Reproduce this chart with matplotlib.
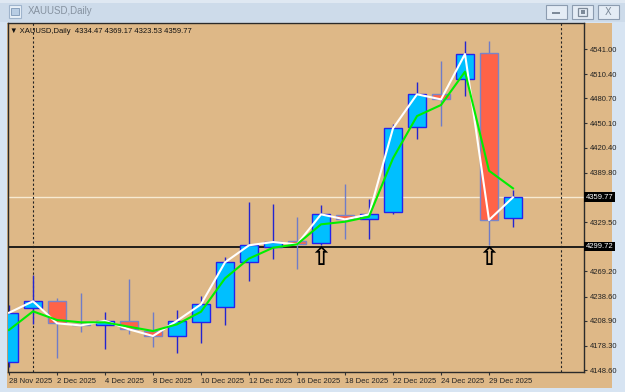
import numpy as np
import matplotlib.pyplot as plt
from matplotlib.patches import Rectangle
from matplotlib.transforms import blended_transform_factory

plt.rcParams['font.family'] = ['Liberation Sans', 'DejaVu Sans']

# daily XAUUSD candles
dates = ['28 Nov 2025', '1 Dec 2025', '2 Dec 2025', '3 Dec 2025', '4 Dec 2025',
         '5 Dec 2025', '8 Dec 2025', '9 Dec 2025', '10 Dec 2025', '11 Dec 2025',
         '12 Dec 2025', '15 Dec 2025', '16 Dec 2025', '17 Dec 2025', '18 Dec 2025',
         '19 Dec 2025', '22 Dec 2025', '23 Dec 2025', '24 Dec 2025', '26 Dec 2025',
         '29 Dec 2025', '30 Dec 2025']
opens = [4158.2, 4224.2, 4232.8, 4205.5, 4203.8, 4209.0, 4197.1, 4190.4, 4207.1, 4225.8,
         4280.8, 4299.1, 4306.8, 4304.0, 4338.2, 4332.9, 4341.5, 4445.7, 4485.7, 4504.7,
         4536.5, 4334.47]
highs = [4228.2, 4264.9, 4236.8, 4242.5, 4220.0, 4259.6, 4219.7, 4222.1, 4239.2, 4287.2,
         4353.7, 4351.3, 4335.4, 4350.4, 4375.7, 4357.4, 4449.0, 4500.3, 4526.7, 4550.8,
         4550.8, 4369.17]
lows = [4152.5, 4205.0, 4163.1, 4195.6, 4174.1, 4192.4, 4176.5, 4169.9, 4182.2, 4204.2,
        4257.9, 4284.8, 4271.8, 4301.9, 4308.9, 4308.9, 4339.0, 4431.0, 4447.3, 4484.0,
        4301.5, 4323.53]
closes = [4218.8, 4232.8, 4205.9, 4203.3, 4209.0, 4198.5, 4190.4, 4209.0, 4229.1, 4280.4,
          4301.2, 4305.2, 4302.4, 4339.0, 4332.9, 4339.0, 4444.1, 4485.7, 4479.5, 4534.9,
          4332.1, 4359.77]
# green moving average line
ma_vals = [4197.7, 4220.5, 4209.9, 4207.1, 4207.1, 4201.7, 4196.5, 4204.6, 4220.0, 4260.8,
           4285.0, 4298.2, 4302.4, 4326.8, 4330.0, 4336.1, 4407.5, 4459.1, 4472.6, 4513.3,
           4392.3, 4370.8]

bid = 4359.77
hline = 4299.72
arrow_idx = [13, 20]
arrow_price = 4286.0
sep_idx = [1, 23]
ytick_vals = [4541.00, 4510.40, 4480.70, 4450.10, 4420.40, 4389.80, 4329.50,
              4269.20, 4238.60, 4208.90, 4178.30, 4148.60]

W, H = 625, 392
fig = plt.figure(figsize=(W / 100, H / 100), dpi=100)
fig.patch.set_facecolor('#d7e4f2')


def rect(x0, y0, x1, y1, **kw):
    r = Rectangle((x0 / W, 1 - y1 / H), (x1 - x0) / W, (y1 - y0) / H,
                  transform=fig.transFigure, zorder=-1, **kw)
    fig.add_artist(r)
    return r


# window chrome
rect(0, 0, W, 22, facecolor='#cddbea', edgecolor='none')
rect(0, 0, W, 3, facecolor='#dfe8f2', edgecolor='none')
rect(7, 23, 612, 388, facecolor='#deb887', edgecolor='none')
rect(9, 5, 21, 18, facecolor='#e8f0f8', edgecolor='#9fb4cc', lw=0.8)
rect(11, 8, 19, 15, facecolor='#b8cde4', edgecolor='#7d97b5', lw=0.6)
fig.text(28 / W, 1 - 11.5 / H, 'XAUUSD,Daily', color='#8692a0', fontsize=7, va='center')
for bx in (546, 572, 598):
    rect(bx, 5, bx + 21, 19, facecolor='#e4ecf5', edgecolor='#8c9cb0', lw=0.8)
rect(552, 12, 560, 14, facecolor='#7d8a99', edgecolor='none')
rect(578, 8, 587, 16, facecolor='none', edgecolor='#7d8a99', lw=0.9)
rect(580.5, 10.5, 584.5, 13.5, facecolor='#7d8a99', edgecolor='none')
fig.text(608.5 / W, 1 - 12 / H, 'X', color='#7d8a99', fontsize=7, ha='center', va='center',
         family='DejaVu Sans')

ax = fig.add_axes([8 / W, 1 - 372 / H, 576 / W, 349 / H])
ax.set_facecolor('#deb887')

x = np.arange(len(dates))
o = np.array(opens)
c = np.array(closes)
up = c >= o
body_col = np.where(up, '#00bfff', '#ff6347')
edge_col = np.where(up, '#2323ee', '#7a84c8')
wick_col = np.where(up, '#2424d0', '#6f7cc8')

ax.axhline(bid, color='#f7ead2', lw=1, zorder=1)
ax.axhline(hline, color='#111111', lw=1.3, zorder=1)
for s in sep_idx:
    ax.axvline(s, color='#222222', lw=0.8, ls=(0, (2, 2)), zorder=1)

ax.vlines(x, lows, highs, colors=wick_col, lw=1, zorder=2)
ax.bar(x, np.abs(c - o), bottom=np.minimum(o, c), width=0.77, color=body_col,
       edgecolor=edge_col, linewidth=1, zorder=3)

ax.plot(x, closes, color='white', lw=1.5, zorder=4)
ax.plot(x, ma_vals, color='#00ee00', lw=1.5, zorder=4)

for i in arrow_idx:
    ax.text(i, arrow_price, '\u21e7', family='DejaVu Sans', fontsize=18, fontweight='bold',
            ha='center', va='center', color='black', zorder=5)

ax.set_xlim(-1 / 24, 575 / 24)
ax.set_ylim(4146.4, 4572.8)

ax.yaxis.tick_right()
ax.set_yticks(ytick_vals)
ax.set_yticklabels(['%.2f' % v for v in ytick_vals])
ax.set_xticks(x[::2])
ax.set_xticklabels(dates[::2], ha='left')
ax.tick_params(axis='both', length=2.5, width=0.8, color='#333333', labelsize=5.5,
               labelcolor='#222222', pad=1.5)

for sp in ax.spines.values():
    sp.set_color('#2a2a2a')
    sp.set_linewidth(1)

tr = blended_transform_factory(ax.transAxes, ax.transData)
for v in (bid, hline):
    ax.text(1.003, v, '%.2f' % v, transform=tr, ha='left', va='center', fontsize=5.5,
            color='white', bbox=dict(facecolor='black', edgecolor='none', pad=1.0))

ax.text(0.004, 0.987, '\u25bc XAUUSD,Daily  4334.47 4369.17 4323.53 4359.77',
        transform=ax.transAxes, ha='left', va='top', fontsize=5.5, color='#111111')

fig.savefig('out.png', dpi=100, facecolor=fig.get_facecolor())
